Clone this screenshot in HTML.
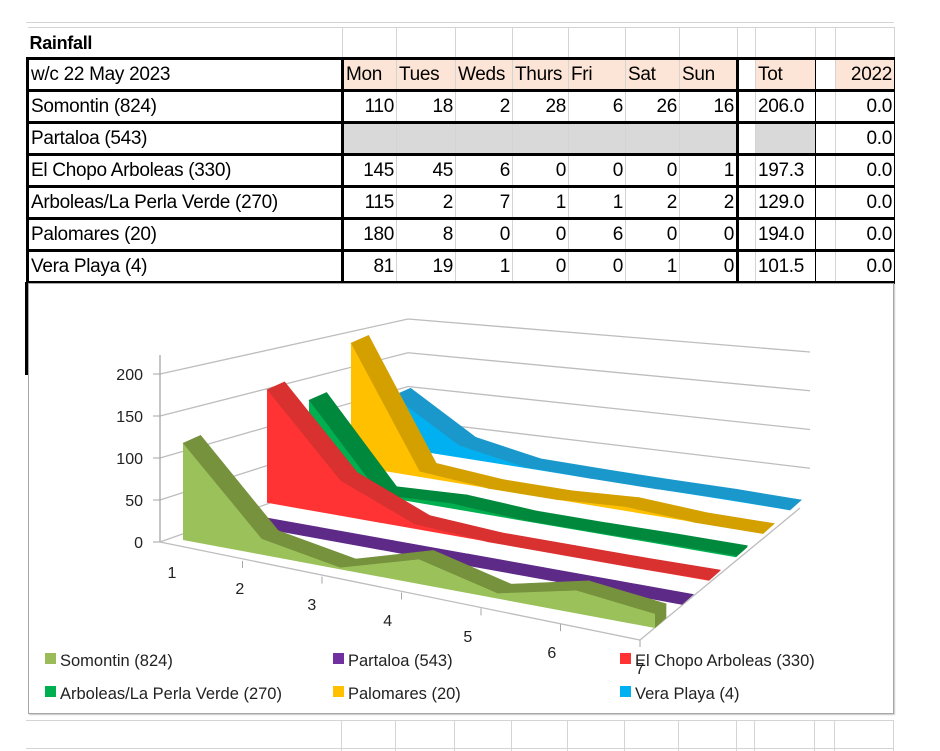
<!DOCTYPE html>
<html><head><meta charset="utf-8">
<style>
html,body{margin:0;padding:0;background:#fff;}
body{width:940px;height:751px;position:relative;overflow:hidden;font-family:"Liberation Sans",sans-serif;}
.gl{position:absolute;background:#d4d4d4;}
table.t{position:absolute;left:26px;top:27px;border-collapse:collapse;table-layout:fixed;font-size:19px;}
table.t td{height:29px;padding:0 2px;white-space:nowrap;overflow:hidden;border:1px solid #d4d4d4;letter-spacing:-0.3px;line-height:20px}
.n{text-align:right;}
.h{background:#fce4d6;}
.g{background:#d9d9d9;}
#chartbox{position:absolute;left:28px;top:283px;width:864px;height:429px;background:#fff;border:1px solid #a6a6a6;box-shadow:1px 1px 1px #c8c8c8;}
</style></head><body>
<div class="gl" style="left:26px;top:22px;width:868px;height:1px"></div>
<div class="gl" style="left:26px;top:720px;width:868px;height:1px"></div>
<div class="gl" style="left:26px;top:748px;width:868px;height:1px"></div>
<script>
const vcols=[341,395,454,511,567,624,678,736,754,814,834,893];
for(const x of vcols){const d=document.createElement('div');


d.className='gl';d.style.cssText='left:'+x+'px;top:720px;width:1px;height:31px';document.body.appendChild(d);}
</script>
<table class="t">
<colgroup><col style="width:315px"><col style="width:54px"><col style="width:59px"><col style="width:57px"><col style="width:56px"><col style="width:57px"><col style="width:54px"><col style="width:58px"><col style="width:18px"><col style="width:60px"><col style="width:20px"><col style="width:59px"></colgroup>
<tr><td style="font-weight:bold;font-size:18px;border-left:none">Rainfall</td><td></td><td></td><td></td><td></td><td></td><td></td><td></td><td></td><td></td><td></td><td></td></tr>
<tr style="border-top:3px solid #000;border-bottom:3px solid #000">
<td style="border-left:3px solid #000;border-right:3px solid #000">w/c 22 May 2023</td><td class="h">Mon</td><td class="h">Tues</td><td class="h">Weds</td><td class="h">Thurs</td><td class="h">Fri</td><td class="h">Sat</td><td class="h" style="border-right:3px solid #000">Sun</td><td style="border-top:1px solid #d4d4d4;border-bottom:1px solid #d4d4d4"></td><td class="h" style="border:1px solid #000">Tot</td><td style="border-top:1px solid #d4d4d4"></td><td class="h n" style="border:1px solid #000">2022</td></tr>
<tr style="border-bottom:3px solid #000"><td style="border-left:3px solid #000;border-right:3px solid #000">Somontin (824)</td><td class="n">110</td><td class="n">18</td><td class="n">2</td><td class="n">28</td><td class="n">6</td><td class="n">26</td><td class="n" style="border-right:3px solid #000">16</td><td></td><td style="border:1px solid #000">206.0</td><td></td><td class="n" style="border:1px solid #000">0.0</td></tr>
<tr style="border-bottom:3px solid #000"><td style="border-left:3px solid #000;border-right:3px solid #000">Partaloa (543)</td><td class="g"></td><td class="g"></td><td class="g"></td><td class="g"></td><td class="g"></td><td class="g"></td><td class="g" style="border-right:3px solid #000"></td><td></td><td class="g" style="border:1px solid #000"></td><td></td><td class="n" style="border:1px solid #000">0.0</td></tr>
<tr style="border-bottom:3px solid #000"><td style="border-left:3px solid #000;border-right:3px solid #000">El Chopo Arboleas (330)</td><td class="n">145</td><td class="n">45</td><td class="n">6</td><td class="n">0</td><td class="n">0</td><td class="n">0</td><td class="n" style="border-right:3px solid #000">1</td><td></td><td style="border:1px solid #000">197.3</td><td></td><td class="n" style="border:1px solid #000">0.0</td></tr>
<tr style="border-bottom:3px solid #000"><td style="border-left:3px solid #000;border-right:3px solid #000">Arboleas/La Perla Verde (270)</td><td class="n">115</td><td class="n">2</td><td class="n">7</td><td class="n">1</td><td class="n">1</td><td class="n">2</td><td class="n" style="border-right:3px solid #000">2</td><td></td><td style="border:1px solid #000">129.0</td><td></td><td class="n" style="border:1px solid #000">0.0</td></tr>
<tr style="border-bottom:3px solid #000"><td style="border-left:3px solid #000;border-right:3px solid #000">Palomares (20)</td><td class="n">180</td><td class="n">8</td><td class="n">0</td><td class="n">0</td><td class="n">6</td><td class="n">0</td><td class="n" style="border-right:3px solid #000">0</td><td></td><td style="border:1px solid #000">194.0</td><td></td><td class="n" style="border:1px solid #000">0.0</td></tr>
<tr style="border-bottom:3px solid #000"><td style="border-left:3px solid #000;border-right:3px solid #000">Vera Playa (4)</td><td class="n">81</td><td class="n">19</td><td class="n">1</td><td class="n">0</td><td class="n">0</td><td class="n">1</td><td class="n" style="border-right:3px solid #000">0</td><td></td><td style="border:1px solid #000">101.5</td><td></td><td class="n" style="border:1px solid #000">0.0</td></tr>
</table>
<div style="position:absolute;left:25px;top:282px;width:3px;height:93px;background:#000"></div>
<div id="chartbox"></div>
<svg id="chart" width="940" height="751" style="position:absolute;left:0;top:0" font-family="Liberation Sans, sans-serif"></svg>
<script>
const categories=['1','2','3','4','5','6','7'];
const seriesNames=['Somontin (824)','Partaloa (543)','El Chopo Arboleas (330)','Arboleas/La Perla Verde (270)','Palomares (20)','Vera Playa (4)'];
const somontin=[110,18,2,28,6,26,16];
const partaloa=[0,0,0,0,0,0,0];
const elChopo=[145,45,6,0,0,0,1];
const arboleas=[115,2,7,1,1,2,2];
const palomares=[180,8,0,0,6,0,0];
const veraPlaya=[81,19,1,0,0,1,0];
const yTicks=[0,50,100,150,200];
const seriesValues=[somontin,partaloa,elChopo,arboleas,palomares,veraPlaya];
const faceColors=['#9bc25a','#7030a0','#ff3333','#00b050','#ffc000','#00b0f0'];
const topColors=['#76923c','#5e2a88','#d93030','#00883c','#d4a000','#1a98cc'];
const legendColors=['#9bbb59','#7030a0','#ff3333','#00b050','#ffc000','#00b0f0'];

const svg=document.getElementById('chart');
const NS='http://www.w3.org/2000/svg';
function mk(tag,attrs,parent){const e=document.createElementNS(NS,tag);for(const k in attrs)e.setAttribute(k,attrs[k]);(parent||svg).appendChild(e);return e;}
const nC=categories.length-1;
function base(i,s){const lx=183+42*s,ly=540-18.6*s,rx=655+27*s,ry=628-23.6*s;const t=i/nC;return [lx+(rx-lx)*t,ly+(ry-ly)*t];}
function kScale(s){return 0.88-0.05*s;}
function pt(i,s,v){const b=base(i,s);return [b[0],b[1]-v*kScale(s)];}
function depth(i){const t=i/nC;return [17.6+(11.3-17.6)*t,-7.8+(-10-(-7.8))*t];}
function wallL(v){return [[160,542-v*0.84],[408,454-v*0.675]];}
function wallB(v){return [408,454-v*0.675,810,507-v*0.775];}
const grid=mk('g',{});


for(const v of yTicks){const a=wallL(v);const b=wallB(v);
const l1=mk('line',{x1:a[0][0],y1:a[0][1],x2:a[1][0],y2:a[1][1],stroke:'#bdbdbd','stroke-width':1.3},grid);


if(v>0){const l2=mk('line',{x1:b[0],y1:b[1],x2:b[2],y2:b[3],stroke:'#bdbdbd','stroke-width':1.3},grid);

}}
const yAx=mk('line',{x1:160,y1:542,x2:160,y2:355,stroke:'#a6a6a6','stroke-width':1.3});


const fl=mk('polyline',{points:'160,542 640,640 800,508',fill:'none',stroke:'#bdbdbd','stroke-width':1.3});


for(const v of yTicks){const y=542-v*0.84;
const tk=mk('line',{x1:153,y1:y,x2:160,y2:y,stroke:'#a6a6a6'});


const tx=mk('text',{x:143,y:y+6,'text-anchor':'end','font-size':16,fill:'#222'});tx.textContent=String(v);

}
for(let i=0;i<categories.length;i++){const t=i/nC;const x=163+(640-163)*t;const y=545+(640-545)*t;
if(i>0){const tk=mk('line',{x1:x,y1:y,x2:x,y2:y+7,stroke:'#a6a6a6'});

}
const lxp=172+395*t+73*t*t;const lyp=578+96*t;
const tx=mk('text',{x:lxp,y:lyp,'text-anchor':'middle','font-size':16,fill:'#222'});tx.textContent=categories[i];

}
for(let s=seriesValues.length-1;s>=0;s--){
const vals=seriesValues[s];const g=mk('g',{});


for(let i=0;i<nC;i++){const a=pt(i,s,vals[i]),b=pt(i+1,s,vals[i+1]);const da=depth(i),db=depth(i+1);
const p=mk('polygon',{points:[a,b,[b[0]+db[0],b[1]+db[1]],[a[0]+da[0],a[1]+da[1]]].map(q=>q.join(',')).join(' '),fill:topColors[s],stroke:topColors[s],'stroke-width':0.6},g);

}
const e=pt(nC,s,vals[nC]),eb=base(nC,s),de=depth(nC);
const cap=mk('polygon',{points:[eb,e,[e[0]+de[0],e[1]+de[1]],[eb[0]+de[0],eb[1]+de[1]]].map(q=>q.join(',')).join(' '),fill:topColors[s]},g);


const pts=[];for(let i=0;i<=nC;i++)pts.push(pt(i,s,vals[i]));for(let i=nC;i>=0;i--)pts.push(base(i,s));
const f=mk('polygon',{points:pts.map(q=>q.join(',')).join(' '),fill:faceColors[s]},g);

}
const lx=[45,333,620],ly=[660,693];
for(let s=0;s<seriesNames.length;s++){const x=lx[s%3],y=ly[Math.floor(s/3)];
const r=mk('rect',{x:x,y:y-7,width:11,height:11,fill:legendColors[s]});


const t=mk('text',{x:x+15,y:y+6,'font-size':16.5,fill:'#222'});t.textContent=seriesNames[s];

}
</script>
</body></html>
